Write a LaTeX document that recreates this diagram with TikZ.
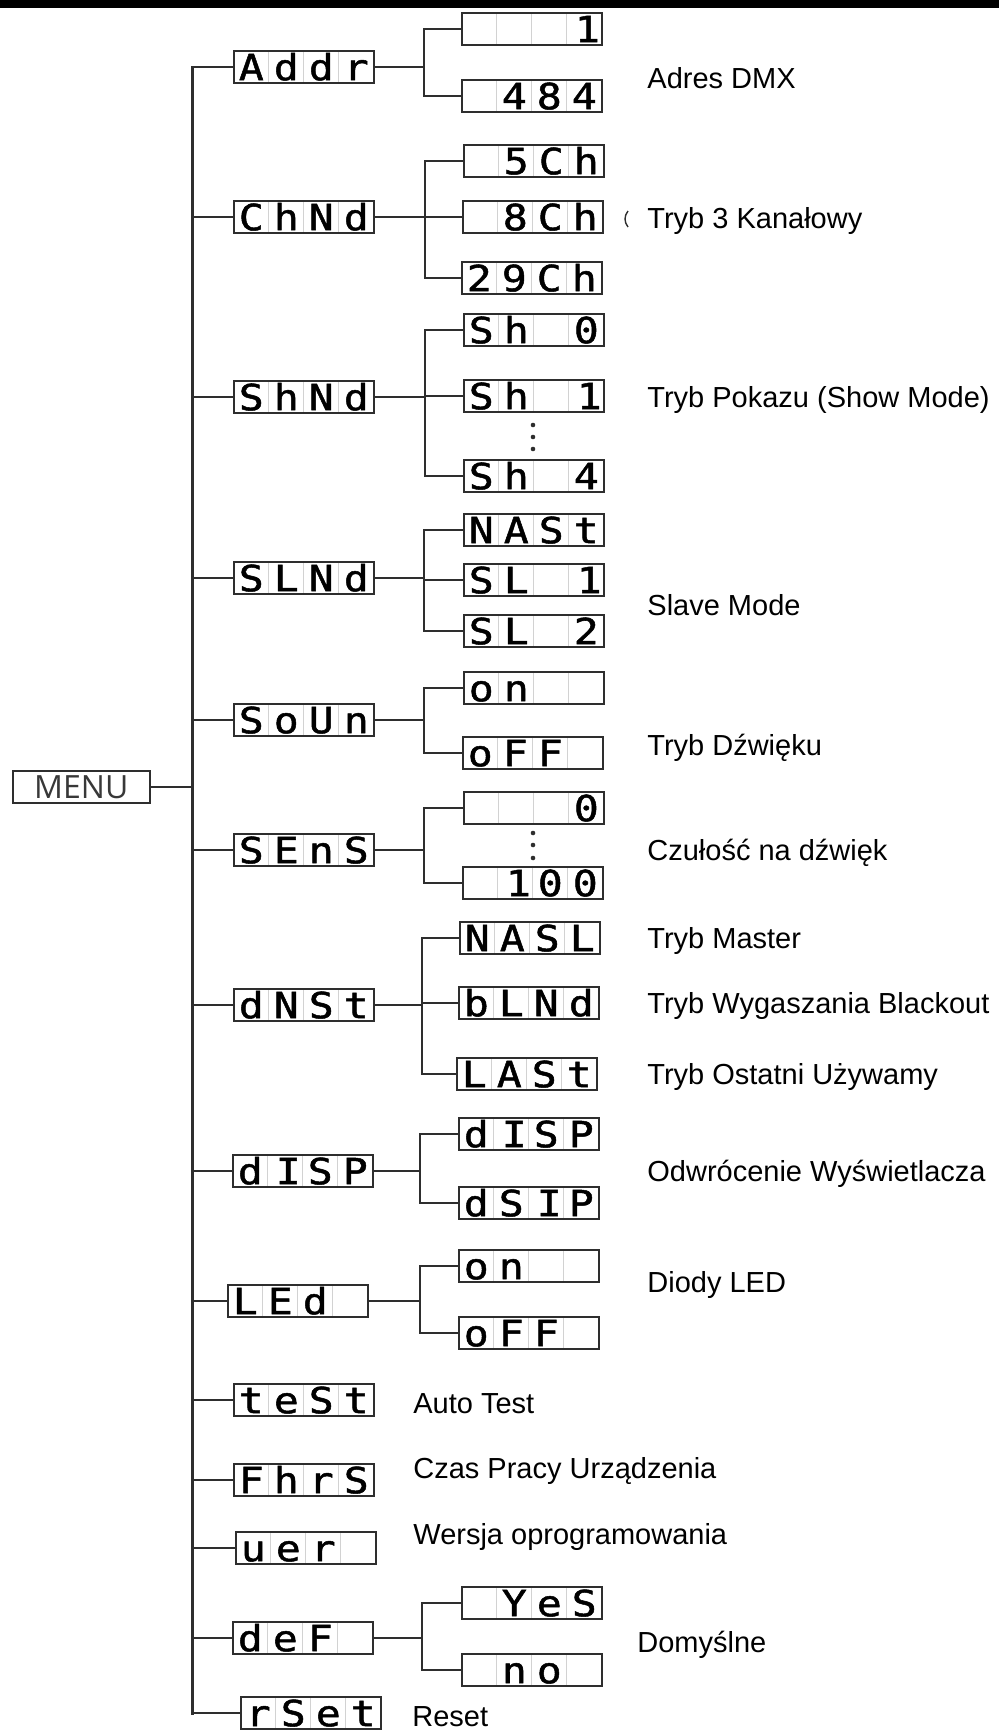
\documentclass[tikz,border=0pt]{standalone}
\usepackage{fontspec}
\setmainfont{Liberation Sans}
\newfontfamily\lcdfont{DejaVu Sans Mono}[FakeStretch=1.15,FakeBold=1.4]
\newfontfamily\menufont{Open Sans}
\usetikzlibrary{calc}
\newlength\cw \setlength\cw{17.5pt}
\newcommand\lcd[4]{\makebox[\cw]{#1}\makebox[\cw]{#2}\makebox[\cw]{#3}\makebox[\cw]{#4}}
\newcommand\rone[1]{\makebox[\cw][r]{#1\hspace{1pt}}}
\definecolor{boxc}{HTML}{2E2E2E}
\definecolor{sepc}{HTML}{D2D2D2}
\tikzset{
  lcdbox/.style={draw=boxc, line width=0.8pt, rectangle, inner sep=0pt,
    minimum width=70pt, minimum height=16pt, text height=13.2pt, text depth=0pt,
    anchor=west, font=\lcdfont\fontsize{18pt}{18pt}\selectfont,
    path picture={\foreach \f in {0.25,0.5,0.75}{
      \draw[sepc, line width=0.5pt]
        ($(path picture bounding box.south west)!\f!(path picture bounding box.south east)$) --
        ($(path picture bounding box.north west)!\f!(path picture bounding box.north east)$);}}},
  lbl/.style={anchor=base west, inner sep=0pt, font=\fontsize{14.5pt}{17pt}\selectfont},
  mainline/.style={line width=1.5pt, draw=boxc, line cap=rect},
  branchline/.style={line width=1.1pt, draw=boxc, line cap=rect},
  conn/.style={line width=0.8pt, draw=boxc},
}
\begin{document}
\begin{tikzpicture}[x=0.5pt,y=-0.5pt]
\useasboundingbox (0,0) rectangle (999,1735);
\fill[black] (0,0) rectangle (999,8);

% MENU
\node[draw=boxc, line width=0.8pt, minimum width=68.5pt, minimum height=16pt, inner sep=0pt,
  anchor=west, text=black!78, font=\menufont\fontsize{16pt}{16pt}\selectfont] (menu) at (12,787) {MENU};

% level 1
\node[lcdbox] (addr) at (233,67)   {\lcd{A}{d}{d}{r}};
\node[lcdbox] (chnd) at (233,217)  {\lcd{C}{h}{N}{d}};
\node[lcdbox] (shnd) at (233,397)  {\lcd{S}{h}{N}{d}};
\node[lcdbox] (slnd) at (233,578)  {\lcd{S}{L}{N}{d}};
\node[lcdbox] (soun) at (233,720)  {\lcd{S}{o}{U}{n}};
\node[lcdbox] (sens) at (233,850)  {\lcd{S}{E}{n}{S}};
\node[lcdbox] (dnst) at (233,1005) {\lcd{d}{N}{S}{t}};
\node[lcdbox] (disp) at (232,1171) {\lcd{d}{\rone{I}}{S}{P}};
\node[lcdbox] (led)  at (227,1301) {\lcd{L}{E}{d}{}};
\node[lcdbox] (test) at (233,1400) {\lcd{t}{e}{S}{t}};
\node[lcdbox] (fhrs) at (233,1480) {\lcd{F}{h}{r}{S}};
\node[lcdbox] (ver)  at (235,1548) {\lcd{u}{e}{r}{}};
\node[lcdbox] (def)  at (232,1638) {\lcd{d}{e}{F}{}};
\node[lcdbox] (rset) at (240,1713) {\lcd{r}{S}{e}{t}};

% level 2
\node[lcdbox] (a1) at (461,29)   {\lcd{}{}{}{\rone{1}}};
\node[lcdbox] (a2) at (461,96)   {\lcd{}{4}{8}{4}};
\node[lcdbox] (c1) at (463,161)  {\lcd{}{5}{C}{h}};
\node[lcdbox] (c2) at (462,217)  {\lcd{}{8}{C}{h}};
\node[lcdbox] (c3) at (461,278)  {\lcd{2}{9}{C}{h}};
\node[lcdbox] (s0) at (463,330)  {\lcd{S}{h}{}{0}};
\node[lcdbox] (s1) at (463,396)  {\lcd{S}{h}{}{\rone{1}}};
\node[lcdbox] (s4) at (463,476)  {\lcd{S}{h}{}{4}};
\node[lcdbox] (l0) at (463,530)  {\lcd{N}{A}{S}{t}};
\node[lcdbox] (l1) at (463,580)  {\lcd{S}{L}{}{\rone{1}}};
\node[lcdbox] (l2) at (463,631)  {\lcd{S}{L}{}{2}};
\node[lcdbox] (o1) at (463,688)  {\lcd{o}{n}{}{}};
\node[lcdbox] (o2) at (462,753)  {\lcd{o}{F}{F}{}};
\node[lcdbox] (e1) at (463,808)  {\lcd{}{}{}{0}};
\node[lcdbox] (e2) at (462,883)  {\lcd{}{\rone{1}}{0}{0}};
\node[lcdbox] (d1) at (459,938)  {\lcd{N}{A}{S}{L}};
\node[lcdbox] (d2) at (458,1003) {\lcd{b}{L}{N}{d}};
\node[lcdbox] (d3) at (456,1074) {\lcd{L}{A}{S}{t}};
\node[lcdbox] (i1) at (458,1134) {\lcd{d}{\rone{I}}{S}{P}};
\node[lcdbox] (i2) at (458,1203) {\lcd{d}{S}{\rone{I}}{P}};
\node[lcdbox] (n1) at (458,1266) {\lcd{o}{n}{}{}};
\node[lcdbox] (n2) at (458,1333) {\lcd{o}{F}{F}{}};
\node[lcdbox] (f1) at (461,1603) {\lcd{}{Y}{e}{S}};
\node[lcdbox] (f2) at (461,1670) {\lcd{}{n}{o}{}};

% main trunk
\coordinate (mt) at (192,67);
\coordinate (mb) at (192,1713);
\draw[mainline] (mt) -- (mb);
\draw[conn] (menu.east) -- (menu.east -| mt);
\foreach \n in {addr,chnd,shnd,slnd,soun,sens,dnst,disp,led,test,fhrs,ver,def,rset}
  \draw[conn] (mt |- \n.west) -- (\n.west);

% branches
\foreach \p/\bx/\cs/\fst/\lst in {
  addr/424/{a1,a2}/a1/a2,
  chnd/425/{c1,c2,c3}/c1/c3,
  shnd/425/{s0,s1,s4}/s0/s4,
  slnd/424/{l0,l1,l2}/l0/l2,
  soun/424/{o1,o2}/o1/o2,
  sens/424/{e1,e2}/e1/e2,
  dnst/422/{d1,d2,d3}/d1/d3,
  disp/420/{i1,i2}/i1/i2,
  led/420/{n1,n2}/n1/n2,
  def/422/{f1,f2}/f1/f2}{
  \draw[conn] (\p.east) -- (\bx,0 |- \p.east);
  \draw[branchline] (\bx,0 |- \fst.west) -- (\bx,0 |- \lst.west);
  \foreach \c in \cs {\draw[conn] (\bx,0 |- \c.west) -- (\c.west);}
}

% ellipsis dots
\foreach \yy in {425,437,449} \fill[boxc] (533,\yy) circle (2.3);
\foreach \yy in {833,845,858} \fill[boxc] (533,\yy) circle (2.3);

% small stray mark
\draw[boxc, line width=0.7pt] (628,211) .. controls (624,216) and (624,222) .. (628,227);

% labels
\node[lbl] (t1)  at (647,88)   {Adres DMX};
\node[lbl] (t2)  at (647,228)  {Tryb 3 Kanałowy};
\node[lbl] (t3)  at (647,407)  {Tryb Pokazu (Show Mode)};
\node[lbl] (t4)  at (647,615)  {Slave Mode};
\node[lbl] (t5)  at (647,755)  {Tryb Dźwięku};
\node[lbl] (t6)  at (647,860)  {Czułość na dźwięk};
\node[lbl] (t7)  at (647,948)  {Tryb Master};
\node[lbl] (t8)  at (647,1013) {Tryb Wygaszania Blackout};
\node[lbl] (t9)  at (647,1084) {Tryb Ostatni Używamy};
\node[lbl] (t10) at (647,1181) {Odwrócenie Wyświetlacza};
\node[lbl] (t11) at (647,1292) {Diody LED};
\node[lbl] (t12) at (413,1413) {Auto Test};
\node[lbl] (t13) at (413,1478) {Czas Pracy Urządzenia};
\node[lbl] (t14) at (413,1544) {Wersja oprogramowania};
\node[lbl] (t15) at (637,1652) {Domyślne};
\node[lbl] (t16) at (412,1726) {Reset};
\end{tikzpicture}
\end{document}
